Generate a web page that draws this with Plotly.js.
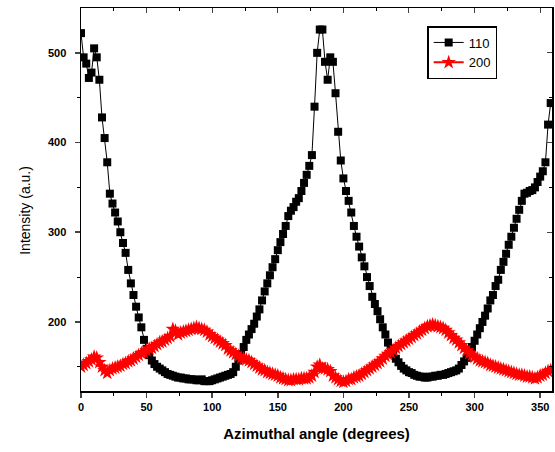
<!DOCTYPE html>
<html>
<head>
<meta charset="utf-8">
<script src="https://cdn.plot.ly/plotly-3.0.1.min.js"></script>
<style>html,body{margin:0;padding:0;background:#fff;}#chart{width:555px;height:452px;}</style>
</head>
<body>
<div id="chart"></div>
<script>
const angle = [0,2,4,6,8,10,12,14,16,18,20,22,24,26,28,30,32,34,36,38,40,42,44,46,48,50,52,54,56,58,60,62,64,66,68,70,72,74,76,78,80,82,84,86,88,90,92,94,96,98,100,102,104,106,108,110,112,114,116,118,120,122,124,126,128,130,132,134,136,138,140,142,144,146,148,150,152,154,156,158,160,162,164,166,168,170,172,174,176,178,180,182,184,186,188,190,192,194,196,198,200,202,204,206,208,210,212,214,216,218,220,222,224,226,228,230,232,234,236,238,240,242,244,246,248,250,252,254,256,258,260,262,264,266,268,270,272,274,276,278,280,282,284,286,288,290,292,294,296,298,300,302,304,306,308,310,312,314,316,318,320,322,324,326,328,330,332,334,336,338,340,342,344,346,348,350,352,354,356,358];

const int110 = [522,495,488,472,478,505,495,470,428,405,378,343,332,322,312,300,288,277,258,243,230,217,205,194,180,170,163,157,153,150,148,146,144,142,141,140,139,138,138,137,137,136,136,136,135,135,136,134,134,134,135,136,137,138,139,140,141,142,144,150,157,164,172,180,186,192,198,206,214,224,234,243,252,261,270,280,289,298,307,318,324,328,334,338,346,355,364,374,386,440,500,526,526,490,470,495,490,455,412,380,360,346,335,322,307,295,284,272,262,250,240,228,220,212,203,194,186,177,170,164,159,155,151,148,146,144,143,141,140,139,139,138,138,139,139,140,140,141,141,142,143,144,145,146,148,152,156,160,166,172,179,186,193,200,207,215,224,230,240,247,258,267,276,286,295,305,315,325,335,343,344,346,347,350,356,362,368,378,420,444];

const int200 = [150,152,154,156,158,161,160,155,150,146,143,146,148,149,150,151,153,154,156,157,159,161,163,165,166,168,170,171,173,175,177,178,180,182,184,192,190,186,188,189,190,191,192,193,194,193,192,191,189,186,184,182,180,178,176,174,170,168,166,164,162,160,159,158,157,155,153,151,149,147,146,144,143,142,141,140,138,137,136,135,135,136,136,136,137,137,137,138,140,144,150,152,148,148,147,145,140,138,136,134,133,134,136,136,138,139,140,142,144,146,148,150,152,154,156,159,162,164,166,168,171,173,175,177,179,181,183,185,187,189,191,193,195,196,197,196,195,194,193,191,188,185,182,180,177,174,171,168,165,163,161,159,157,156,155,154,152,151,150,149,148,147,146,145,144,143,142,141,141,140,139,139,138,137,138,140,141,143,145,146];

const seriesNames = ['110','200'];
const xTicks = [0,50,100,150,200,250,300,350];
const yTicks = [200,300,400,500];

const traces = [
  {x: angle, y: int110, name: seriesNames[0], type:'scatter', mode:'lines+markers',
   line:{color:'#000000', width:1}, marker:{symbol:'square', size:8, color:'#000000'}},
  {x: angle, y: int200, name: seriesNames[1], type:'scatter', mode:'lines+markers',
   line:{color:'#ff0000', width:2}, marker:{symbol:'star', size:11, color:'#ff0000', line:{width:0}}}
];

const tickFont = {family:'Liberation Sans, Arial, sans-serif', size:11, color:'#000', weight:'bold'};
const xr = [0, 359], yr = [123, 550];

const layout = {
  width:555, height:452,
  margin:{l:81, r:3, t:8, b:61},
  paper_bgcolor:'#ffffff', plot_bgcolor:'#ffffff',
  showlegend:true,
  legend:{x:0.735, y:0.953, xanchor:'left', yanchor:'top', bgcolor:'#ffffff',
          bordercolor:'#000000', borderwidth:1.5,
          font:{family:'Liberation Sans, Arial, sans-serif', size:13, color:'#000'},
          tracegroupgap:0, itemwidth:30},
  xaxis:{range:xr, tickvals:xTicks, ticktext:xTicks.map(String), ticks:'outside', ticklen:5, tickwidth:1.5,
         showline:true, linecolor:'#000', linewidth:1.5, showgrid:false, zeroline:false,
         tickfont:tickFont,
         minor:{tickvals:[25,75,125,175,225,275,325], ticks:'outside', ticklen:3, tickwidth:1, tickcolor:'#000'},
         title:{text:'Azimuthal angle (degrees)', font:{family:'Liberation Sans, Arial, sans-serif', size:15, color:'#000', weight:'bold'}, standoff:17}},
  yaxis:{range:yr, tickvals:yTicks, ticktext:yTicks.map(String), ticks:'outside', ticklen:5, tickwidth:1.5,
         showline:true, linecolor:'#000', linewidth:1.5, showgrid:false, zeroline:false,
         tickfont:tickFont, ticklabelstandoff:6,
         minor:{tickvals:[150,250,350,450], ticks:'outside', ticklen:3, tickwidth:1, tickcolor:'#000'}},
  xaxis2:{overlaying:'x', side:'top', anchor:'y', range:xr, tickvals:xTicks, ticks:'inside', ticklen:5, tickwidth:1,
          showticklabels:false, showline:true, linecolor:'#000', linewidth:1.5, showgrid:false, zeroline:false,
          minor:{tickvals:[25,75,125,175,225,275,325], ticks:'inside', ticklen:3, tickwidth:1, tickcolor:'#000'}},
  yaxis2:{overlaying:'y', side:'right', anchor:'x', range:yr, tickvals:yTicks, ticks:'inside', ticklen:5, tickwidth:1,
          showticklabels:false, showline:true, linecolor:'#000', linewidth:1.5, showgrid:false, zeroline:false,
          minor:{tickvals:[150,250,350,450], ticks:'inside', ticklen:3, tickwidth:1, tickcolor:'#000'}},
  annotations:[{text:'Intensity (a.u.)', textangle:-90, xref:'paper', yref:'paper',
                x:-0.119, y:0.473, xanchor:'center', yanchor:'middle', showarrow:false,
                font:{family:'Liberation Sans, Arial, sans-serif', size:14, color:'#000'}}]
};

// invisible traces so the mirror axes are drawn
traces.push({x:[xr[0]], y:[yr[0]], xaxis:'x2', yaxis:'y2', type:'scatter', mode:'markers',
             marker:{opacity:0}, showlegend:false, hoverinfo:'skip'});

Plotly.newPlot('chart', traces, layout, {staticPlot:true, displayModeBar:false});
</script>
</body>
</html>
